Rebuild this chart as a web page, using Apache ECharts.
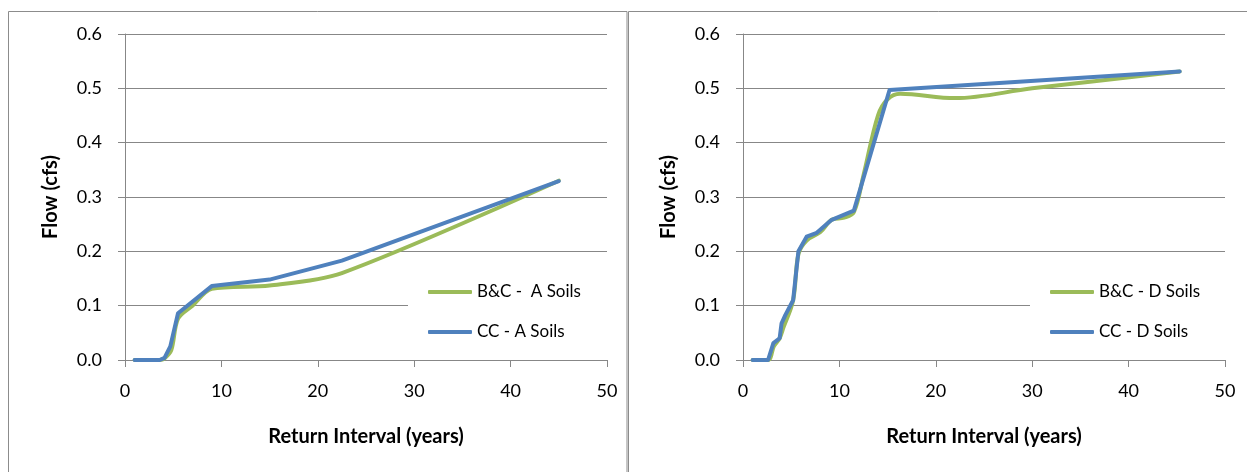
<!DOCTYPE html>
<html>
<head>
<meta charset="utf-8">
<script src="https://cdn.jsdelivr.net/npm/echarts@6/dist/echarts.min.js"></script>
<style>
html,body{margin:0;padding:0;background:#fff;}
#c{width:1247px;height:472px;}
</style>
</head>
<body>
<div id="c"></div>
<script>
// ---- Data ----
var xTicks = [0, 10, 20, 30, 40, 50];
var yTicks = [0.0, 0.1, 0.2, 0.3, 0.4, 0.5, 0.6];

// Left chart: A soils
var ccA_x = [1, 3.6, 4.1, 4.7, 5.5, 9, 15, 22.5, 45];
var ccA_y = [0, 0, 0.004, 0.025, 0.086, 0.136, 0.148, 0.183, 0.329];
var bcA_x = [1, 3.6, 4.1, 4.8, 5.5, 7, 9, 15, 22.5, 45];
var bcA_y = [0, 0, 0.003, 0.018, 0.076, 0.100, 0.131, 0.137, 0.160, 0.330];

// Right chart: D soils
var ccD_x = [1, 2.6, 3.15, 3.8, 4.0, 4.4, 5.2, 5.75, 6.6, 7.65, 9.2, 11.5, 15.2, 45.3];
var ccD_y = [0, 0, 0.031, 0.04, 0.0675, 0.083, 0.11, 0.2, 0.227, 0.234, 0.258, 0.275, 0.497, 0.531];
var bcD_x = [1, 2.6, 3.2, 3.8, 4.2, 5.2, 5.75, 6.6, 8, 9.2, 10.5, 11.5, 12.5, 14, 15, 16.3, 22, 30, 45.3];
var bcD_y = [0, 0, 0.025, 0.04, 0.06, 0.11, 0.195, 0.22, 0.235, 0.258, 0.262, 0.272, 0.34, 0.45, 0.48, 0.49, 0.482, 0.50, 0.531];

var names = {
  bcA: 'B&C -  A Soils', ccA: 'CC - A Soils',
  bcD: 'B&C - D Soils', ccD: 'CC - D Soils'
};

function pairs(xs, ys) { return xs.map(function (x, i) { return [x, ys[i]]; }); }

var FONT = 'Lato';
var GRAY = '#878787';
var GREEN = '#9BBB59';
var BLUE = '#4F81BD';

function xAxisCfg(gi) {
  return {
    type: 'value', gridIndex: gi, min: xTicks[0], max: xTicks[xTicks.length - 1], interval: 10,
    name: 'Return Interval (years)', nameLocation: 'middle', nameGap: 67,
    nameTextStyle: { fontFamily: FONT, fontWeight: 'bold', fontSize: 20, color: '#000' },
    axisLine: { show: true, lineStyle: { color: GRAY, width: 1 } },
    axisTick: { show: true, length: 7, inside: false, lineStyle: { color: GRAY } },
    axisLabel: { fontFamily: FONT, fontSize: 18, color: '#000', margin: 22 },
    splitLine: { show: false }
  };
}
function yAxisCfg(gi) {
  return {
    type: 'value', gridIndex: gi, min: yTicks[0], max: yTicks[yTicks.length - 1], interval: 0.1,
    name: 'Flow (cfs)', nameLocation: 'middle', nameGap: 64, nameRotate: 90,
    nameTextStyle: { fontFamily: FONT, fontWeight: 'bold', fontSize: 20, color: '#000' },
    axisLine: { show: true, lineStyle: { color: GRAY, width: 1 } },
    axisTick: { show: true, length: 7, inside: false, lineStyle: { color: GRAY } },
    axisLabel: { fontFamily: FONT, fontSize: 18, color: '#000', margin: 23,
      formatter: function (v) { return v.toFixed(1); } },
    splitLine: { show: true, lineStyle: { color: GRAY, width: 1 } }
  };
}
function lineSeries(name, data, color, gi, smooth, z) {
  return {
    type: 'line', name: name, xAxisIndex: gi, yAxisIndex: gi, data: data,
    showSymbol: false, symbol: 'none', smooth: smooth, z: z,
    lineStyle: { color: color, width: 4, cap: 'round', join: 'round' },
    itemStyle: { color: color }, animation: false
  };
}
function legendCfg(left, data) {
  return {
    orient: 'vertical', left: left, top: 274, data: data,
    icon: 'roundRect', itemWidth: 44, itemHeight: 4, itemGap: 20,
    padding: [8, 30, 8, 20], backgroundColor: '#fff',
    textStyle: { fontFamily: FONT, fontSize: 17, color: '#000', lineHeight: 20, padding: [0, 0, 0, 0] },
    selectedMode: false
  };
}

var chart = echarts.init(document.getElementById('c'), null, { renderer: 'canvas' });
chart.setOption({
  animation: false,
  backgroundColor: '#fff',
  grid: [
    { left: 125, top: 34, width: 482, height: 326 },
    { left: 743, top: 34, width: 482, height: 326 }
  ],
  xAxis: [xAxisCfg(0), xAxisCfg(1)],
  yAxis: [yAxisCfg(0), yAxisCfg(1)],
  legend: [
    legendCfg(408, [names.bcA, names.ccA]),
    legendCfg(1030, [names.bcD, names.ccD])
  ],
  graphic: [
    { type: 'rect', shape: { x: 8.5, y: 11.5, width: 618.5, height: 520 },
      style: { fill: 'none', stroke: '#8c8c8c', lineWidth: 1 }, silent: true, z: -1 },
    { type: 'rect', shape: { x: 628.5, y: 11.5, width: 700, height: 520 },
      style: { fill: 'none', stroke: '#8c8c8c', lineWidth: 1 }, silent: true, z: -1 }
  ],
  series: [
    lineSeries(names.bcA, pairs(bcA_x, bcA_y), GREEN, 0, 0.3, 2),
    lineSeries(names.ccA, pairs(ccA_x, ccA_y), BLUE, 0, false, 3),
    lineSeries(names.bcD, pairs(bcD_x, bcD_y), GREEN, 1, 0.35, 2),
    lineSeries(names.ccD, pairs(ccD_x, ccD_y), BLUE, 1, false, 3)
  ]
});
</script>
</body>
</html>
